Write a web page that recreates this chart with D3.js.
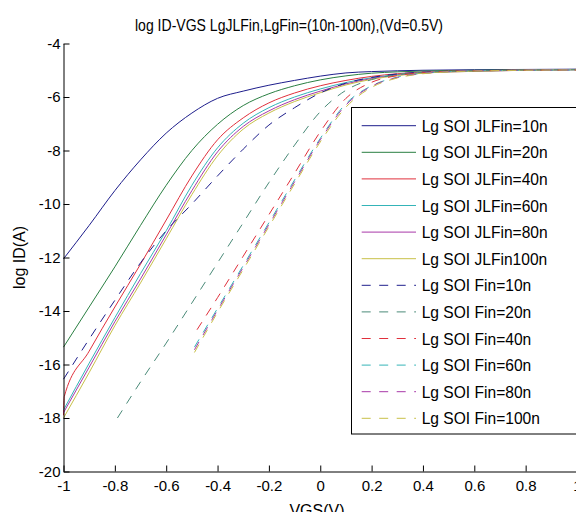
<!DOCTYPE html>
<html><head><meta charset="utf-8">
<script src="https://cdn.jsdelivr.net/npm/d3@7"></script>
<style>
body{margin:0;background:#fff}
svg{display:block}
text{font-family:"Liberation Sans",Arial,sans-serif;fill:#000}
</style></head>
<body><svg id="c" width="576" height="512"></svg>
<script>
// ---- data ----
const titleText = "log ID-VGS LgJLFin,LgFin=(10n-100n),(Vd=0.5V)";
const xTicks = [-1,-0.8,-0.6,-0.4,-0.2,0,0.2,0.4,0.6,0.8,1];
const yTicks = [-20,-18,-16,-14,-12,-10,-8,-6,-4];

const vgsJL   = [-1,-0.9,-0.8,-0.7,-0.6,-0.5,-0.4,-0.3,-0.2,-0.1,0,0.1,0.2,0.3,0.4,0.6,0.8,1];
const vgsJL40 = [-1,-0.997,-0.9,-0.8,-0.7,-0.6,-0.5,-0.4,-0.3,-0.2,-0.1,0,0.1,0.2,0.3,0.4,0.6,0.8,1];
const idJL10  = [-12.05,-10.8,-9.5,-8.35,-7.35,-6.6,-6.05,-5.78,-5.56,-5.38,-5.22,-5.1,-5.05,-5.02,-5.0,-4.98,-4.97,-4.96];
const idJL20  = [-15.35,-13.85,-12.35,-10.8,-9.3,-8.0,-7.02,-6.32,-5.88,-5.58,-5.36,-5.21,-5.11,-5.06,-5.03,-5.0,-4.98,-4.97];
const idJL40  = [-17.9,-17.2,-15.5,-13.85,-12.25,-10.6,-8.95,-7.6,-6.78,-6.22,-5.85,-5.58,-5.38,-5.23,-5.13,-5.07,-5.02,-4.99,-4.97];
const idJL60  = [-17.7,-15.95,-14.25,-12.6,-11.0,-9.3,-7.9,-6.98,-6.4,-6.0,-5.7,-5.46,-5.28,-5.16,-5.09,-5.03,-5.0,-4.98];
const idJL80  = [-17.8,-16.1,-14.4,-12.8,-11.15,-9.5,-8.05,-7.1,-6.52,-6.1,-5.78,-5.51,-5.31,-5.18,-5.1,-5.04,-5.0,-4.98];
const idJL100 = [-18.0,-16.3,-14.55,-12.95,-11.3,-9.65,-8.2,-7.2,-6.6,-6.17,-5.84,-5.55,-5.34,-5.2,-5.11,-5.04,-5.0,-4.98];

const vgsF10  = [-1,-0.9,-0.8,-0.7,-0.6,-0.5,-0.4,-0.3,-0.2,-0.1,0,0.1,0.2,0.3,0.4,0.6,0.8,1];
const idF10   = [-16.55,-15.05,-13.6,-12.2,-11.0,-10.0,-8.95,-7.95,-7.05,-6.4,-5.85,-5.48,-5.27,-5.14,-5.07,-5.02,-5.0,-4.98];
const vgsF20  = [-0.79,-0.7,-0.6,-0.5,-0.4,-0.3,-0.2,-0.1,0,0.1,0.2,0.3,0.4,0.5,0.6,0.8,1];
const idF20   = [-18.0,-16.65,-15.2,-13.7,-12.2,-10.7,-9.2,-7.8,-6.55,-5.75,-5.35,-5.17,-5.08,-5.04,-5.02,-4.99,-4.98];
const vgsF40  = [-0.48,-0.4,-0.3,-0.2,-0.1,0,0.1,0.2,0.3,0.4,0.5,0.6,0.8,1];
const vgsF60  = [-0.49,-0.4,-0.3,-0.2,-0.1,0,0.1,0.2,0.3,0.4,0.5,0.6,0.8,1];
const idF40   = [-14.7,-13.5,-11.95,-10.4,-8.85,-7.3,-6.05,-5.45,-5.2,-5.09,-5.04,-5.02,-5.0,-4.99];
const idF60   = [-15.35,-13.9,-12.3,-10.7,-9.1,-7.55,-6.25,-5.58,-5.26,-5.11,-5.05,-5.02,-5.0,-4.99];
const idF80   = [-15.45,-13.97,-12.37,-10.77,-9.17,-7.6,-6.3,-5.6,-5.27,-5.12,-5.05,-5.02,-5.0,-4.99];
const idF100  = [-15.55,-14.05,-12.45,-10.85,-9.25,-7.68,-6.38,-5.64,-5.29,-5.13,-5.06,-5.03,-5.0,-4.99];

const seriesNames = ["Lg SOI JLFin=10n","Lg SOI JLFin=20n","Lg SOI JLFin=40n","Lg SOI JLFin=60n","Lg SOI JLFin=80n","Lg SOI JLFin100n",
  "Lg SOI Fin=10n","Lg SOI Fin=20n","Lg SOI Fin=40n","Lg SOI Fin=60n","Lg SOI Fin=80n","Lg SOI Fin=100n"];
const seriesX = [vgsJL,vgsJL,vgsJL40,vgsJL,vgsJL,vgsJL,vgsF10,vgsF20,vgsF40,vgsF60,vgsF60,vgsF60];
const seriesY = [idJL10,idJL20,idJL40,idJL60,idJL80,idJL100,idF10,idF20,idF40,idF60,idF80,idF100];
const seriesColors = ["#1e1e8c","#2a7f42","#e0303c","#34b4b8","#a838a8","#c8c048",
  "#1e1e8c","#4a8a78","#e0303c","#34b4b8","#a838a8","#c8c048"];
const seriesDashed = [false,false,false,false,false,false,true,true,true,true,true,true];

// ---- layout ----
const svg = d3.select("#c");
const L = 63.5, R = 577, T = 43.5, B = 471.5;
const x = d3.scaleLinear().domain([-1,1]).range([L,R]);
const y = d3.scaleLinear().domain([-20,-4]).range([B,T]);

// curves
const line = d3.line().x(d=>x(d[0])).y(d=>y(d[1])).curve(d3.curveMonotoneX);
const gLines = svg.append("g");
seriesY.forEach((vals,i)=>{
  const pts = vals.map((v,j)=>[seriesX[i][j], v]);
  gLines.append("path").attr("d", line(pts))
    .attr("fill","none").attr("stroke", seriesColors[i]).attr("stroke-width",1)
    .attr("stroke-dasharray", seriesDashed[i] ? "9,8" : null);
});

// axes
const fmt = d => String(d);
const gx = svg.append("g").attr("transform",`translate(0,${B})`)
  .call(d3.axisBottom(x).tickValues(xTicks).tickFormat(fmt).tickSizeInner(-6).tickSizeOuter(0).tickPadding(9));
const gy = svg.append("g").attr("transform",`translate(${L},0)`)
  .call(d3.axisLeft(y).tickValues(yTicks).tickFormat(fmt).tickSizeInner(-6).tickSizeOuter(0).tickPadding(3));
[gx,gy].forEach(g=>{
  g.selectAll("path,line").attr("stroke","#000").attr("stroke-width",1);
  g.selectAll("text").attr("font-family","Liberation Sans, Arial, sans-serif").attr("font-size",15).attr("fill","#000");
});

// title
const t = svg.append("text").attr("x",289).attr("y",31).attr("text-anchor","middle")
  .attr("font-size",17).text(titleText);
t.attr("textLength",308).attr("lengthAdjust","spacingAndGlyphs");

// axis labels
svg.append("text").attr("transform","translate(19,257.5) rotate(-90)").attr("text-anchor","middle")
  .attr("dominant-baseline","central").attr("font-size",16).text("log ID(A)");
svg.append("text").attr("x",317).attr("y",515.5).attr("text-anchor","middle").attr("font-size",16).text("VGS(V)");

// legend
const lg = svg.append("g");
lg.append("rect").attr("x",351.5).attr("y",107.5).attr("width",240).attr("height",326.5)
  .attr("fill","#fff").attr("stroke","#000").attr("stroke-width",1);
const texts = [];
seriesNames.forEach((nm,i)=>{
  const cy = 125.7 + i*26.6;
  lg.append("line").attr("x1",361.7).attr("x2",416).attr("y1",cy).attr("y2",cy)
    .attr("stroke",seriesColors[i]).attr("stroke-width",1)
    .attr("stroke-dasharray", seriesDashed[i] ? "9,8.5" : null);
  texts.push(lg.append("text").attr("x",421.7).attr("y",cy+6).attr("font-size",17).text(nm));
});
const base = texts[0].node().getComputedTextLength();
const k = 126/base;
texts.forEach(tx=>{
  const w = tx.node().getComputedTextLength();
  tx.attr("textLength", w*k).attr("lengthAdjust","spacingAndGlyphs");
});
</script></body></html>
